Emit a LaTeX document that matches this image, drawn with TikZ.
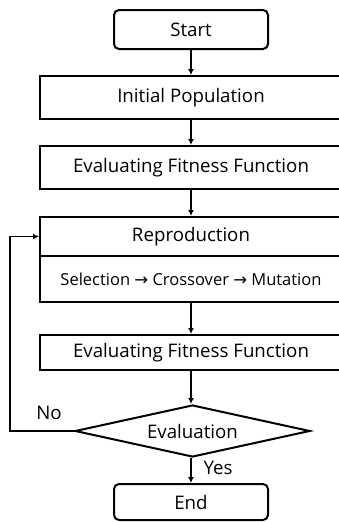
\documentclass[tikz,border=0pt]{standalone}
\usepackage{fontspec}
\setmainfont{Open Sans}
\newfontfamily\symfont{DejaVu Sans}
\usetikzlibrary{shapes.geometric,arrows.meta}
\begin{document}
\begin{tikzpicture}[x=1pt,y=-1pt,
  box/.style={draw,line width=2pt,minimum width=302pt,inner sep=0pt,font=\fontsize{18.7}{20}\selectfont},
  term/.style={draw,line width=2pt,rounded corners=5pt,minimum width=154pt,inner sep=0pt,font=\fontsize{18.7}{20}\selectfont},
  arr/.style={line width=1.3pt,-{Latex[length=6pt,width=6pt]}},
  lbl/.style={font=\fontsize{18.7}{20}\selectfont,inner sep=0pt}]
\clip (0,0) rectangle (339,522);
\fill[white] (0,0) rectangle (339,522);
\node[term,minimum height=39pt] (start) at (191,29.5) {Start};
\node[box,minimum height=43pt] (init) at (191,97.5) {Initial Population};
\node[box,minimum height=43pt] (eval1) at (191,167.5) {Evaluating Fitness Function};
\node[box,minimum height=39pt] (repro) at (191,236.5) {Reproduction};
\node[box,minimum height=46pt,font=\fontsize{16.5}{18}\selectfont] (sel) at (191,279) {Selection {\symfont\fontsize{16.5}{18}\selectfont →} Crossover {\symfont\fontsize{16.5}{18}\selectfont →} Mutation};
\node[box,minimum height=35pt] (eval2) at (191,352.5) {Evaluating Fitness Function};
\node[draw,diamond,aspect=4.52,line width=2pt,minimum width=235pt,minimum height=52pt,inner sep=0pt,font=\fontsize{18.7}{20}\selectfont] (dia) at (192.5,431) {Evaluation};
\node[term,minimum height=36pt] (end) at (191,502) {End};
\coordinate (lc) at (10,431);
\draw[arr] (start) -- (init);
\draw[arr] (init) -- (eval1);
\draw[arr] (eval1) -- (repro);
\draw[arr] (sel) -- (eval2);
\draw[arr] (eval2.south) -- (eval2.south |- dia.north);
\draw[arr] (dia.south -| end.north) -- (end.north);
\draw[arr] (dia.west) -- (lc) |- (repro.west);
\node[lbl] (no) at (49,413) {No};
\node[lbl] (yes) at (218,468) {Yes};
\end{tikzpicture}
\end{document}
